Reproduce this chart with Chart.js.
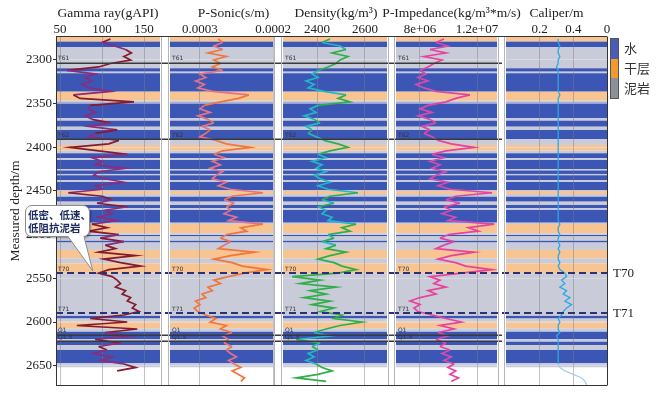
<!DOCTYPE html>
<html lang="zh">
<head>
<meta charset="utf-8">
<script src="https://cdn.jsdelivr.net/npm/chart.js@4.4.1/dist/chart.umd.min.js"></script>
<style>
  html, body { margin:0; padding:0; background:#fff; }
  #wrap { position:relative; width:656px; height:396px; overflow:hidden; background:#fff; }
  #wrap canvas { position:absolute; top:0; }
  .lg-bar { position:absolute; left:610px; top:38px; width:9px; height:61px; border:1px solid #555; box-sizing:border-box; display:flex; flex-direction:column; }
  .lg-bar div { flex:1; }
  .lg-label { position:absolute; left:624px; font:13px "Noto Sans CJK SC", sans-serif; color:#333; line-height:16px; white-space:nowrap; }
  .hz-label { position:absolute; left:613px; font:13px "Liberation Serif", serif; color:#222; line-height:16px; }
  #callout { position:absolute; left:25px; top:205px; width:65px; height:32px; box-sizing:border-box; border:1px solid #8c8c8c; border-radius:7px; background:#fff; box-shadow:1px 1px 2px rgba(0,0,0,0.35); padding:3px 0 0 2px; font:bold 10.5px/12.5px "Noto Sans CJK SC", sans-serif; color:#1c2b5e; white-space:nowrap; }
  #tail { position:absolute; left:0; top:0; }
</style>
</head>
<body>
<div id="wrap">
  <canvas id="c1" width="185" height="396" style="left:0px"></canvas>
  <canvas id="c2" width="153" height="396" style="left:145px"></canvas>
  <canvas id="c3" width="154" height="396" style="left:258px"></canvas>
  <canvas id="c4" width="151" height="396" style="left:371px"></canvas>
  <canvas id="c5" width="175" height="396" style="left:481px"></canvas>
</div>
<script>
// ---------------- data ----------------
const depth = [
 2276,2280,2284,2288,2292,2296,2300,2304,2308,2312,
 2316,2320,2324,2328,2332,2336,2340,2344,2348,2352,
 2356,2360,2364,2368,2372,2376,2380,2384,2388,2392,
 2396,2400,2404,2408,2412,2416,2420,2424,2428,2432,
 2436,2440,2444,2448,2452,2456,2460,2464,2468,2472,
 2476,2480,2484,2488,2492,2496,2500,2504,2508,2512,
 2516,2520,2524,2528,2532,2536,2540,2544,2548,2552,
 2556,2560,2564,2568,2572,2576,2580,2584,2588,2592,
 2596,2600,2604,2608,2612,2616,2620,2624,2628,2632,
 2636,2640,2644,2648,2652,2656,2660,2664,2668,2672];

const gammaRay = [
 110,100,115,128,135,126,134,110,96,58,
 92,80,88,76,85,110,66,74,138,86,
 84,92,80,88,110,84,118,92,84,120,
 108,62,96,130,88,100,92,128,96,90,
 104,126,92,100,60,100,112,94,130,104,
 112,96,118,88,106,84,120,98,126,104,
 116,96,140,102,122,146,108,96,112,118,
 122,116,128,124,134,130,140,136,144,126,
 86,130,70,142,104,134,92,122,96,106,
 90,112,98,126,140,118,null,null,null,null];

const pSonic = [
 0.000275,0.000269,0.000281,0.000269,0.000289,0.000264,0.000281,0.000272,0.000283,0.000269,
 0.000300,0.000292,0.000306,0.000294,0.000303,0.000283,0.000233,0.000247,0.000272,0.000294,
 0.000300,0.000286,0.000303,0.000289,0.000281,0.000297,0.000286,0.000292,0.000300,0.000278,
 0.000264,0.000231,0.000269,0.000281,0.000267,0.000283,0.000272,0.000286,0.000269,0.000278,
 0.000283,0.000264,0.000275,0.000258,0.000214,0.000256,0.000267,0.000253,0.000264,0.000258,
 0.000267,0.000250,0.000261,0.000214,0.000244,0.000236,0.000264,0.000272,0.000258,0.000267,
 0.000275,0.000225,0.000258,0.000281,0.000256,0.000242,0.000208,0.000239,0.000261,0.000281,
 0.000272,0.000289,0.000283,0.000297,0.000292,0.000306,0.000300,0.000308,0.000303,0.000292,
 0.000278,0.000286,0.000264,0.000272,0.000256,0.000269,0.000261,0.000267,0.000256,0.000264,
 0.000258,0.000250,0.000261,0.000253,0.000244,0.000256,0.000247,0.000239,0.000244,null];

const density = [
 2454,2421,2496,2521,2463,2529,2496,2479,2446,2404,
 2379,2404,2354,2388,2363,2429,2521,2488,2538,2404,
 2371,2396,2346,2388,2413,2354,2379,2363,2396,2429,
 2488,2529,2454,2404,2438,2379,2421,2396,2438,2388,
 2413,2454,2404,2446,2571,2454,2421,2471,2404,2438,
 2421,2463,2446,2563,2504,2538,2446,2471,2421,2479,
 2438,2521,2454,2404,2471,2504,2563,2488,2296,2413,
 2329,2479,2371,2438,2346,2454,2379,2471,2413,2504,
 2471,2588,2496,2438,2388,2454,2313,2413,2379,2404,
 2363,2388,2354,2396,2421,2463,2404,2313,2438,null];

const pImpedance = [
 9.68e6,9.12e6,9.96e6,8.70e6,9.82e6,8.28e6,9.54e6,8.98e6,8.56e6,8.00e6,
 8.42e6,7.86e6,8.56e6,7.72e6,8.28e6,9.12e6,11.5e6,10.5e6,9.82e6,8.56e6,
 8.00e6,8.84e6,7.86e6,8.70e6,9.12e6,8.14e6,8.70e6,8.28e6,8.84e6,9.26e6,
 10.2e6,11.8e6,9.82e6,8.84e6,9.68e6,8.70e6,9.40e6,8.84e6,9.82e6,9.12e6,
 8.70e6,9.96e6,9.26e6,10.1e6,13.05e6,10.5e6,9.82e6,10.8e6,9.68e6,10.2e6,
 9.54e6,10.5e6,9.96e6,13.2e6,11.4e6,12.1e6,9.96e6,9.40e6,10.4e6,9.68e6,
 9.12e6,11.8e6,10.2e6,9.26e6,10.5e6,11.2e6,13.05e6,10.9e6,8.70e6,9.40e6,
 8.98e6,9.82e6,8.56e6,9.12e6,8.00e6,7.30e6,8.00e6,7.58e6,7.86e6,8.84e6,
 9.82e6,10.9e6,9.40e6,10.4e6,9.26e6,9.96e6,9.12e6,9.82e6,9.40e6,10.1e6,
 9.54e6,10.2e6,9.68e6,10.4e6,9.96e6,10.5e6,10.1e6,10.7e6,10.2e6,null];

const caliper = [
 0.31,0.31,0.32,0.31,0.31,0.32,0.31,0.31,0.30,0.31,
 0.31,0.31,0.31,0.31,0.31,0.31,0.32,0.31,0.31,0.31,
 0.31,0.31,0.31,0.31,0.31,0.31,0.31,0.31,0.31,0.31,
 0.31,0.31,0.31,0.31,0.31,0.31,0.31,0.31,0.31,0.31,
 0.31,0.31,0.31,0.31,0.31,0.31,0.31,0.31,0.31,0.31,
 0.31,0.31,0.31,0.32,0.31,0.31,0.32,0.31,0.31,0.32,
 0.31,0.32,0.31,0.31,0.32,0.31,0.32,0.35,0.36,0.33,
 0.35,0.32,0.36,0.34,0.38,0.35,0.39,0.36,0.34,0.33,
 0.31,0.32,0.31,0.31,0.32,0.30,0.31,0.31,0.31,0.31,
 0.31,0.31,0.31,0.31,0.32,0.35,0.40,0.45,0.47,0.48];

// tick values & labels
const depthTicks = [2300,2350,2400,2450,2500,2550,2600,2650];
const gammaTicks = [50,100,150];
const gammaTickLabels = ['50','100','150'];
const sonicTicks = [0.0003,0.0002];
const sonicTickLabels = ['0.0003','0.0002'];
const densityTicks = [2400,2600];
const densityTickLabels = ['2400','2600'];
const impedanceTicks = [8e6,1.2e7];
const impedanceTickLabels = ['8e+06','1.2e+07'];
const caliperTicks = [0.2,0.4,0.6];
const caliperTickLabels = ['0.2','0.4','0'];

// lithology intervals: lithTops[i]..lithTops[i+1] has class lithClass[i]
const lithTops = [2273.7,2279,2285.5,2309.5,2313.4,2315.2,2336.3,2346.6,2348.9,2366.7,
 2369.5,2376.4,2380.1,2390.8,2397.3,2403.8,2406.8,2412.5,2414.5,2425,
 2426.5,2430.5,2432,2437.4,2439.7,2449.6,2453.4,2456.5,2462.2,2466,
 2469.8,2471.7,2486.3,2487.8,2498.4,2500,2502,2507,2509,2517.5,
 2527,2532.8,2544.2,2593,2596,2599.6,2607.2,2611.1,2619.8,2622.5,
 2626.3,2632,2647.3,2651.8];
const lithClass = ['D','W','M','W','M','W','D','M','W','M',
 'W','M','W','M','D','M','W','M','W','M',
 'W','M','W','M','W','D','M','W','M','W',
 'M','W','M','D','M','W','M','W','M','D',
 'M','D','M','W','M','D','M','W','M','W',
 'M','W','M'];

// horizons
const horizonNames = ['T61','T62','Q1','Q1.5'];
const horizonDepths = [2303.1,2390.8,2614.5,2622];
const boundaryNames = ['T70','T71'];
const boundaryDepths = [2544.2,2590];

const legendNames = ['水','干层','泥岩'];
const calloutLines = ['低密、低速、','低阻抗泥岩'];

// ---------------- styles ----------------
const DEPTH_MIN = 2273.7, DEPTH_MAX = 2672.1;
const lithColor = { W:'#3b56b5', D:'#f8c492', M:'#c9ccd8' };
const legendColors = ['#4a5cb8','#f39a2e','#8d9098'];

Chart.defaults.font.family = "'Liberation Serif', 'Times New Roman', serif";
Chart.defaults.color = '#222';

function lithAt(d) {
  for (let i = 0; i < lithClass.length; i++) {
    if (d >= lithTops[i] && d < lithTops[i + 1]) return lithClass[i];
  }
  return null;
}

const wellPlugin = {
  id: 'well',
  beforeDraw(chart, args, o) {
    const { ctx, chartArea: a } = chart;
    const y = chart.scales.y;
    ctx.save();
    ctx.beginPath(); ctx.rect(a.left, a.top, a.right - a.left, a.bottom - a.top); ctx.clip();
    for (let i = 0; i < lithClass.length; i++) {
      const y0 = y.getPixelForValue(lithTops[i]);
      const y1 = y.getPixelForValue(lithTops[i + 1]);
      ctx.fillStyle = lithColor[lithClass[i]];
      ctx.fillRect(a.left, y0, a.right - a.left, y1 - y0);
    }
    ctx.restore();
  },
  afterDatasetsDraw(chart, args, o) {
    const { ctx, chartArea: a } = chart;
    const y = chart.scales.y;
    ctx.save();
    if (o.horizons) {
      ctx.strokeStyle = '#3a3a3a'; ctx.lineWidth = 1.5; ctx.setLineDash([]);
      horizonDepths.forEach((d) => {
        const py = Math.round(y.getPixelForValue(d)) + 0.25;
        ctx.beginPath(); ctx.moveTo(a.left - o.extL, py); ctx.lineTo(a.right + o.extR, py); ctx.stroke();
      });
    }
    ctx.strokeStyle = '#2b3175'; ctx.lineWidth = 2; ctx.setLineDash([7, 4]);
    boundaryDepths.forEach((d) => {
      const py = Math.round(y.getPixelForValue(d));
      ctx.beginPath(); ctx.moveTo(a.left - o.extL, py); ctx.lineTo(a.right + o.extR, py); ctx.stroke();
    });
    ctx.setLineDash([]);
    if (o.horizons) {
      ctx.font = '6px "DejaVu Sans", sans-serif';
      ctx.fillStyle = '#333';
      ctx.textBaseline = 'bottom';
      horizonDepths.forEach((d, i) => {
        ctx.fillText(horizonNames[i], a.left + 2, y.getPixelForValue(d) - 1);
      });
      boundaryDepths.forEach((d, i) => {
        ctx.fillText(boundaryNames[i], a.left + 2, y.getPixelForValue(d) - 1);
      });
    }
    ctx.restore();
  },
  afterDraw(chart, args, o) {
    const { ctx, chartArea: a } = chart;
    ctx.save();
    ctx.lineWidth = 1;
    ctx.strokeStyle = '#b4b4bc';
    ctx.beginPath();
    if (!o.first) { ctx.moveTo(a.left - 1.5, a.top); ctx.lineTo(a.left - 1.5, a.bottom); }
    if (!o.last) { ctx.moveTo(a.right + 1.5, a.top); ctx.lineTo(a.right + 1.5, a.bottom); }
    ctx.stroke();
    ctx.strokeStyle = '#333';
    ctx.beginPath();
    ctx.moveTo(a.left - o.extL, a.top - 0.5); ctx.lineTo(a.right + o.extR, a.top - 0.5);
    ctx.moveTo(a.left - o.extL, a.bottom + 0.5); ctx.lineTo(a.right + o.extR, a.bottom + 0.5);
    if (o.last) { ctx.moveTo(a.right + 0.5, a.top - 0.5); ctx.lineTo(a.right + 0.5, a.bottom + 0.5); }
    ctx.stroke();
    ctx.font = '13.5px "Liberation Serif", serif';
    ctx.fillStyle = '#222';
    ctx.textAlign = 'center';
    ctx.textBaseline = 'middle';
    ctx.fillText(o.title, (a.left + a.right) / 2 + o.titleShift, 13);
    ctx.restore();
  }
};

const trackDefs = [
  { id:'c1', padL:0,  padR:25, extL:0, extR:5, title:'Gamma ray(gAPI)', titleShift:0, values:gammaRay,
    min:45.2, max:169, reverse:false, ticks:gammaTicks, labels:gammaTickLabels,
    colW:'#8b2c7c', colO:'#861a2e', horizons:true, first:true, last:false },
  { id:'c2', padL:25, padR:25, extL:5, extR:5, title:'P-Sonic(s/m)', titleShift:12, values:pSonic,
    min:0.0002, max:0.000341, reverse:true, ticks:sonicTicks, labels:sonicTickLabels,
    colW:'#e2728c', colO:'#f0763c', horizons:true, first:false, last:false },
  { id:'c3', padL:25, padR:25, extL:5, extR:5, title:'Density(kg/m³)', titleShift:1, values:density,
    min:2258, max:2692, reverse:false, ticks:densityTicks, labels:densityTickLabels,
    colW:'#23b6c4', colO:'#2fae4a', horizons:true, first:false, last:false },
  { id:'c4', padL:25, padR:25, extL:4, extR:5, title:'P-Impedance(kg/m³*m/s)', titleShift:5, values:pImpedance,
    min:6.32e6, max:1.34e7, reverse:false, ticks:impedanceTicks, labels:impedanceTickLabels,
    colW:'#d54bb0', colO:'#e8429c', horizons:true, first:false, last:false },
  { id:'c5', padL:25, padR:49, extL:4, extR:0, title:'Caliper/m', titleShift:0, values:caliper,
    min:0, max:0.6, reverse:false, ticks:caliperTicks, labels:caliperTickLabels,
    colW:'#2ea8e2', colO:'#2ea8e2', horizons:false, first:false, last:true }
];

const charts = trackDefs.map((t) => {
  const pts = depth.map((d, i) => ({ x: t.values[i], y: d }));
  const segColor = (c) => {
    const d = c.p0.parsed.y;
    if (t.id === 'c5') return d >= 2648 ? '#a9cfe6' : t.colW;
    return lithAt(d) === 'W' ? t.colW : t.colO;
  };
  return new Chart(document.getElementById(t.id), {
    type: 'scatter',
    data: { datasets: [{
      data: pts, showLine: true, stepped: false, tension: 0,
      borderColor: t.colO, borderWidth: t.id === 'c5' ? 1.3 : 1.7,
      pointRadius: 0, spanGaps: false,
      segment: { borderColor: segColor }
    }] },
    options: {
      responsive: false, animation: false, events: [],
      layout: { autoPadding: false, padding: { left: t.padL, right: t.padR, top: 0, bottom: 11 } },
      plugins: {
        legend: { display: false }, tooltip: { enabled: false },
        well: { extL: t.extL, extR: t.extR, horizons: t.horizons, first: t.first, last: t.last,
                title: t.title, titleShift: t.titleShift }
      },
      scales: {
        x: {
          type: 'linear', position: 'top', min: t.min, max: t.max, reverse: t.reverse,
          afterBuildTicks: (s) => { s.ticks = t.ticks.map((v) => ({ value: v })); },
          afterFit: (s) => { s.height = 37; },
          ticks: { autoSkip: false, maxRotation: 0, minRotation: 0, padding: 0, color: '#222',
                   font: { size: 13 }, callback: (v, i) => t.labels[i] },
          grid: { color: 'rgba(120,122,135,0.45)', drawTicks: false, lineWidth: 1 },
          border: { display: false },
          title: { display: false }
        },
        y: {
          type: 'linear', position: 'left', min: DEPTH_MIN, max: DEPTH_MAX, reverse: true,
          afterBuildTicks: (s) => { s.ticks = depthTicks.map((v) => ({ value: v })); },
          afterFit: (s) => { s.width = t.first ? 56 : 0; },
          ticks: { display: !!t.first, padding: 1, color: '#222', font: { size: 13 }, autoSkip: false,
                   callback: (v) => String(v) },
          grid: { color: 'rgba(225,228,242,0.55)', drawTicks: !!t.first, tickLength: 3, tickColor: '#333' },
          border: { display: !!t.first, color: '#333', width: 1 },
          title: { display: !!t.first, text: 'Measured depth/m', color: '#222',
                   font: { size: 13.5 }, padding: { top: 7, bottom: 0 } }
        }
      }
    },
    plugins: [wellPlugin]
  });
});

// ---------------- HTML overlays (legend, horizon labels, callout) ----------------
const wrap = document.getElementById('wrap');
const bar = document.createElement('div');
bar.className = 'lg-bar';
legendColors.forEach((c) => { const s = document.createElement('div'); s.style.background = c; bar.appendChild(s); });
wrap.appendChild(bar);
legendNames.forEach((n, i) => {
  const l = document.createElement('div');
  l.className = 'lg-label';
  l.style.top = (40 + i * 20) + 'px';
  l.textContent = n;
  wrap.appendChild(l);
});

const yCal = charts[4].scales.y;
boundaryNames.forEach((n, i) => {
  const l = document.createElement('div');
  l.className = 'hz-label';
  l.style.top = (yCal.getPixelForValue(boundaryDepths[i]) - 8) + 'px';
  l.textContent = n;
  wrap.appendChild(l);
});

const box = document.createElement('div');
box.id = 'callout';
box.innerHTML = calloutLines.join('<br>');
wrap.appendChild(box);

const g = charts[0];
const tipX = g.scales.x.getPixelForValue(89);
const tipY = g.scales.y.getPixelForValue(2541.5);
const svgNS = 'http://www.w3.org/2000/svg';
const svg = document.createElementNS(svgNS, 'svg');
svg.setAttribute('id', 'tail'); svg.setAttribute('width', '656'); svg.setAttribute('height', '396');
const tail = document.createElementNS(svgNS, 'path');
tail.setAttribute('d', `M68,236.5 L${tipX},${tipY} L84,236.5`);
tail.setAttribute('fill', '#fff'); tail.setAttribute('stroke', '#8c8c8c'); tail.setAttribute('stroke-width', '1');
svg.appendChild(tail);
const cover = document.createElementNS(svgNS, 'rect');
cover.setAttribute('x', '68.8'); cover.setAttribute('y', '234.5'); cover.setAttribute('width', '14.5'); cover.setAttribute('height', '2.6');
cover.setAttribute('fill', '#fff');
svg.appendChild(cover);
wrap.appendChild(svg);
</script>
</body>
</html>
